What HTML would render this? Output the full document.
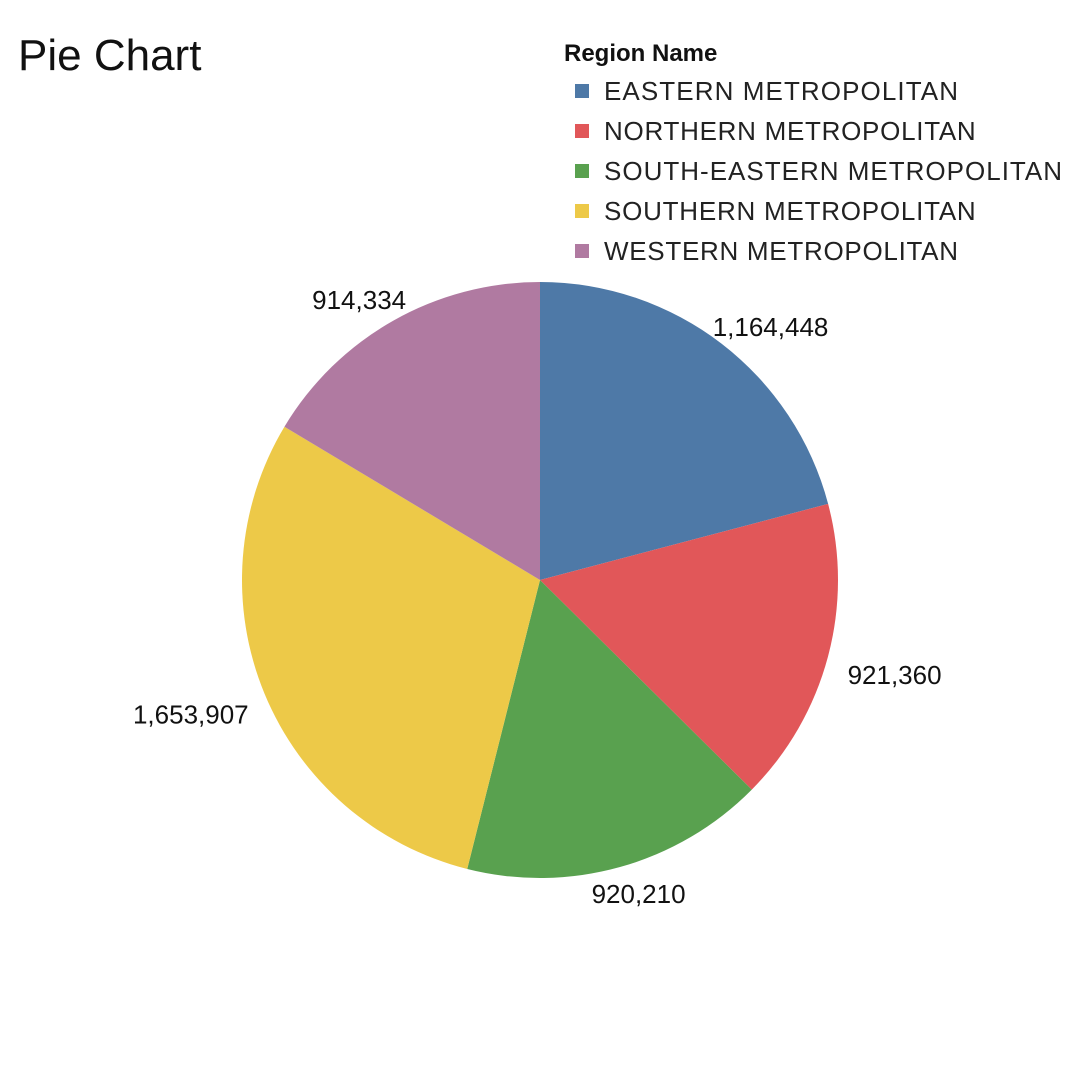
<!DOCTYPE html>
<html><head><meta charset="utf-8"><style>
body{margin:0;width:1080px;height:1080px;background:#fff;overflow:hidden;font-family:"Liberation Sans",sans-serif}
</style></head><body>
<svg width="1080" height="1080">
<text x="18" y="70" font-size="44" fill="#111">Pie Chart</text>
<text x="564" y="61" font-size="24" font-weight="bold" fill="#111">Region Name</text>
<g id="legend"></g>
<g id="slices"></g>
<g id="labels"></g>
</svg>
<script>
const categories=["EASTERN METROPOLITAN","NORTHERN METROPOLITAN","SOUTH-EASTERN METROPOLITAN","SOUTHERN METROPOLITAN","WESTERN METROPOLITAN"];
const values=[1164448,921360,920210,1653907,914334];
const valueLabels=["1,164,448","921,360","920,210","1,653,907","914,334"];
const colors=["#4e79a7","#e15759","#59a14f","#edc948","#b07aa1"];
const NS="http://www.w3.org/2000/svg";
const cx=540,cy=580,r=298,lr=312;
const total=values.reduce((a,b)=>a+b,0);
const sl=document.getElementById('slices'),lb=document.getElementById('labels'),lg=document.getElementById('legend');
let a0=0;
function pt(a,rad){return [cx+rad*Math.sin(a),cy-rad*Math.cos(a)];}
values.forEach((v,i)=>{
  const a1=a0+v/total*2*Math.PI;
  const p0=pt(a0,r),p1=pt(a1,r);
  const path=document.createElementNS(NS,'path');
  path.setAttribute('d',`M${cx},${cy}L${p0[0]},${p0[1]}A${r},${r} 0 ${a1-a0>Math.PI?1:0} 1 ${p1[0]},${p1[1]}Z`);
  path.setAttribute('fill',colors[i]);
  
  
  sl.appendChild(path);
  const m=(a0+a1)/2,lp=pt(m,lr);
  const t=document.createElementNS(NS,'text');
  t.setAttribute('text-anchor','middle');t.setAttribute('font-size','26');t.setAttribute('fill','#111');
  t.textContent=valueLabels[i];
  
  
  lb.appendChild(t);
  const w=t.getComputedTextLength()||110;
  const x=lp[0]+w/2*Math.sin(m)+8*Math.sin(m);
  const y=lp[1]-13*Math.cos(m)+9+12*Math.sin(m)*Math.sin(m);
  t.setAttribute('x',x);t.setAttribute('y',y);
  a0=a1;
});
categories.forEach((c,i)=>{
  const y=84+i*40;
  const s=document.createElementNS(NS,'rect');
  s.setAttribute('x',575);s.setAttribute('y',y);s.setAttribute('width',14);s.setAttribute('height',14);s.setAttribute('fill',colors[i]);
  
  
  lg.appendChild(s);
  const t=document.createElementNS(NS,'text');
  t.setAttribute('x',604);t.setAttribute('y',y+16);t.setAttribute('font-size','26');t.setAttribute('fill','#222');
  t.setAttribute('textLength',c.length*17.7>460?458:c.length*17.7);
  t.textContent=c;
  
  
  lg.appendChild(t);
});
</script>
</body></html>
